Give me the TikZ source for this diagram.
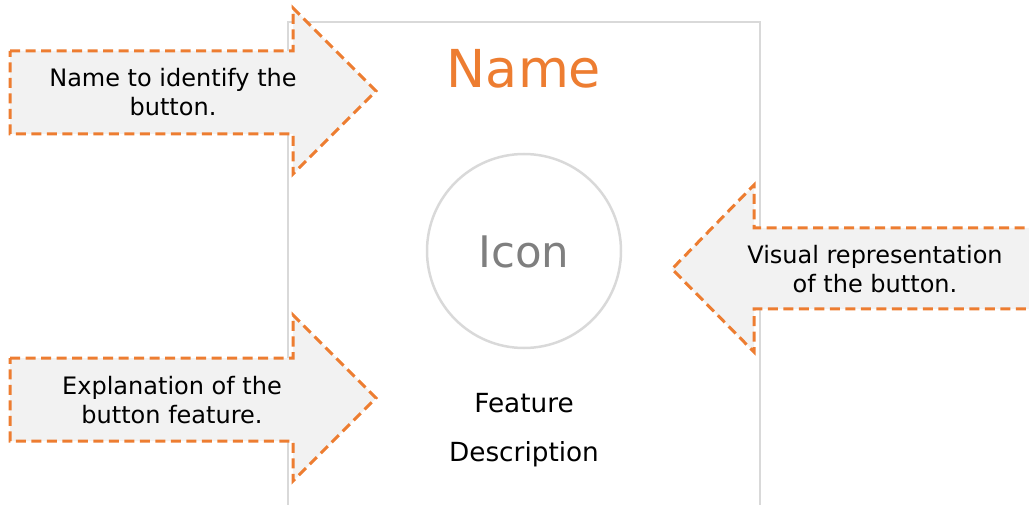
\documentclass[tikz,border=0pt]{standalone}
\usepackage{fontspec}
\setmainfont{DejaVu Sans}
\definecolor{accent}{HTML}{ED7D31}
\definecolor{calloutfill}{HTML}{F2F2F2}
\definecolor{framegray}{HTML}{D9D9D9}
\definecolor{icongray}{HTML}{7F7F7F}
\begin{document}
\begin{tikzpicture}[
        x=1pt, y=-1pt,
        frame/.style={draw=framegray, line width=2.5pt},
        callout/.style={draw=accent, fill=calloutfill, line width=3pt, dash pattern=on 10pt off 5.5pt},
        note/.style={align=center, inner sep=0pt, font=\fontsize{24}{29}\selectfont},
        caption/.style={anchor=base, inner sep=0pt, font=\fontsize{26.3}{30}\selectfont}
    ]
        \useasboundingbox (0,0) rectangle (1029,505);

        % button card
        \draw[frame] (288,22) rectangle (760,520);
        \node[anchor=base, inner sep=0pt, text=accent, font=\fontsize{52.3}{60}\selectfont] (name) at (524,88) {Name};
        \node[circle, draw=framegray, line width=2.5pt, minimum size=194pt, inner sep=0pt] (ring) at (524,251) {};
        \node[anchor=base, inner sep=0pt, text=icongray, font=\fontsize{43.5}{50}\selectfont] (icon) at (524,268) {Icon};
        \node[caption] (feature) at (524,412) {Feature};
        \node[caption] (descr) at (524,461) {Description};

        % callouts
        \draw[callout] (10,51) -- (293,51) -- (293,8) -- (376,91) -- (293,174) -- (293,134) -- (10,134) -- cycle;
        \draw[callout] (10,358) -- (293,358) -- (293,315) -- (376,398) -- (293,481) -- (293,441) -- (10,441) -- cycle;
        \draw[callout] (1040,228) -- (754,228) -- (754,185) -- (672,269) -- (754,352) -- (754,309) -- (1040,309);

        \node[note] (nametip) at (173,92.5) {Name to identify the\\button.};
        \node[note] (feattip) at (172,400.5) {Explanation of the\\button feature.};
        \node[note] (icontip) at (875,269.5) {Visual representation\\of the button.};
    \end{tikzpicture}
\end{document}
